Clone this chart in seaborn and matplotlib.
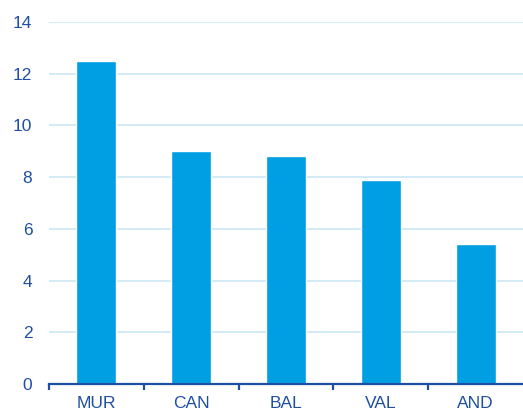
import matplotlib
matplotlib.use("Agg")
import matplotlib.pyplot as plt
import seaborn as sns
import numpy as np

regions = ["MUR", "CAN", "BAL", "VAL", "AND"]
values = [12.5, 9.0, 8.8, 7.9, 5.4]
yticks = [0, 2, 4, 6, 8, 10, 12, 14]

sns.set_style("white")
plt.rcParams['font.family'] = ['Liberation Sans', 'DejaVu Sans']

text_blue = "#1f4fa3"
bar_blue = "#009fe3"
grid_blue = "#c9e8f5"

fig = plt.figure(figsize=(5.23, 4.12), dpi=100)
ax = fig.add_axes([49 / 523, 28 / 412, 474 / 523, 362 / 412])

sns.barplot(x=regions, y=values, color=bar_blue, width=0.42, saturation=1, ax=ax)

ax.set_ylim(0, 14)
ax.set_xlim(-0.5, len(regions) - 0.5)
ax.set_yticks(yticks)
ax.yaxis.grid(True, color=grid_blue, linewidth=1.2)
ax.set_axisbelow(True)
ax.set_xlabel("")
ax.set_ylabel("")

for s in ["top", "right", "left"]:
    ax.spines[s].set_visible(False)
ax.spines["bottom"].set_color(text_blue)
ax.spines["bottom"].set_linewidth(1.6)

ax.set_xticks(np.arange(-0.5, len(regions) - 0.5, 1), minor=True)
ax.tick_params(axis="x", which="both", bottom=True)
ax.tick_params(axis="x", which="major", length=0, labelsize=12.5, labelcolor=text_blue, pad=9)
ax.tick_params(axis="x", which="minor", length=4, width=1.6, color=text_blue, direction="out")
ax.tick_params(axis="y", length=0, labelsize=12.5, labelcolor=text_blue, pad=12)

fig.savefig("out.png", dpi=100)
